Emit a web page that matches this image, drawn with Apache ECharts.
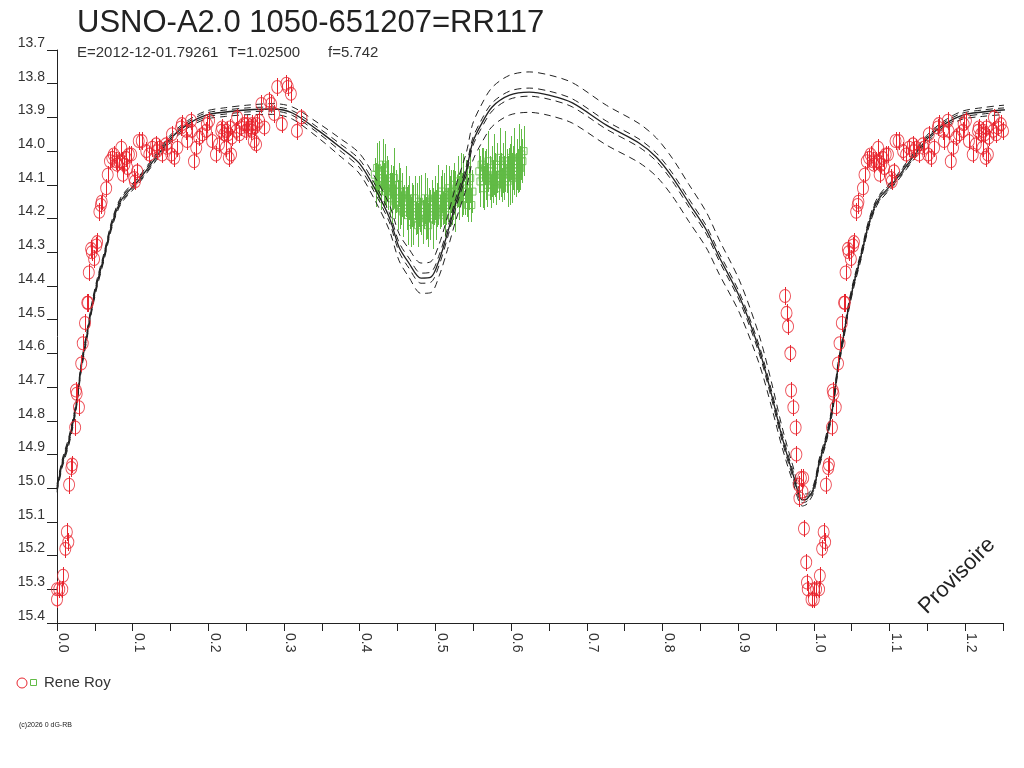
<!DOCTYPE html>
<html>
<head>
<meta charset="utf-8">
<title>USNO-A2.0 1050-651207=RR117</title>
<script src="https://cdn.jsdelivr.net/npm/echarts@6/dist/echarts.min.js"></script>
<style>
  html, body { margin: 0; padding: 0; background: #fff; }
  #chart { width: 1024px; height: 768px; }
</style>
</head>
<body>
<div id="chart"></div>
<script>
  var FONT = '"Liberation Sans", Arial, Helvetica, sans-serif';

  // ---- model light curve (phase / magnitude) with envelope spreads
  var modelPhase = [0.000, 0.007, 0.016, 0.025, 0.032, 0.040, 0.046, 0.053, 0.062, 0.073,
    0.085, 0.108, 0.131, 0.152, 0.175, 0.197, 0.223, 0.250, 0.285, 0.311,
    0.346, 0.372, 0.399, 0.419, 0.439, 0.452, 0.465, 0.481, 0.494, 0.505,
    0.516, 0.527, 0.541, 0.549, 0.560, 0.575, 0.598, 0.624, 0.650, 0.681,
    0.726, 0.769, 0.792, 0.813, 0.835, 0.858, 0.875, 0.902, 0.928, 0.945,
    0.958, 0.972, 0.985, 0.991, 1.000];
  var modelMag = [15.000, 14.926, 14.857, 14.759, 14.641, 14.540, 14.463, 14.391, 14.314, 14.213,
    14.145, 14.086, 14.018, 13.958, 13.917, 13.893, 13.884, 13.878, 13.875, 13.887,
    13.940, 13.985, 14.035, 14.107, 14.196, 14.285, 14.332, 14.377, 14.374, 14.323,
    14.243, 14.154, 14.056, 13.976, 13.923, 13.869, 13.834, 13.825, 13.834, 13.857,
    13.923, 13.976, 14.018, 14.077, 14.154, 14.234, 14.314, 14.433, 14.590, 14.730,
    14.848, 14.955, 15.035, 15.032, 15.000];
  var innerSpread = [0.006, 0.006, 0.006, 0.006, 0.006, 0.006, 0.006, 0.006, 0.006, 0.006,
    0.006, 0.006, 0.006, 0.006, 0.006, 0.006, 0.006, 0.006, 0.006, 0.007,
    0.008, 0.010, 0.012, 0.013, 0.014, 0.014, 0.015, 0.015, 0.015, 0.015,
    0.014, 0.014, 0.013, 0.012, 0.012, 0.012, 0.012, 0.012, 0.012, 0.012,
    0.012, 0.012, 0.012, 0.012, 0.012, 0.012, 0.012, 0.012, 0.012, 0.012,
    0.011, 0.010, 0.008, 0.007, 0.006];
  var outerSpread = [0.012, 0.012, 0.012, 0.012, 0.012, 0.012, 0.012, 0.012, 0.011, 0.011,
    0.010, 0.010, 0.010, 0.011, 0.011, 0.012, 0.013, 0.014, 0.016, 0.018,
    0.022, 0.026, 0.030, 0.034, 0.038, 0.040, 0.042, 0.045, 0.046, 0.047,
    0.049, 0.051, 0.053, 0.055, 0.057, 0.058, 0.059, 0.060, 0.060, 0.060,
    0.059, 0.058, 0.057, 0.056, 0.055, 0.053, 0.051, 0.048, 0.042, 0.036,
    0.030, 0.024, 0.018, 0.015, 0.012];

  // ---- Rene Roy, red circles: [phase, mag]
  var redErr = 0.026;
  var redPoints = [
    [0.000, 15.33], [0.000, 15.30], [0.003, 15.30], [0.007, 15.30], [0.008, 15.26],
    [0.011, 15.18], [0.013, 15.13], [0.015, 15.16], [0.016, 14.99], [0.019, 14.94],
    [0.020, 14.93], [0.024, 14.82], [0.025, 14.71], [0.026, 14.72], [0.029, 14.76],
    [0.032, 14.63], [0.034, 14.57], [0.037, 14.51], [0.040, 14.45], [0.041, 14.45],
    [0.042, 14.36], [0.045, 14.29], [0.046, 14.30], [0.049, 14.32], [0.052, 14.28],
    [0.053, 14.27], [0.056, 14.18], [0.058, 14.16], [0.059, 14.15], [0.065, 14.11],
    [0.067, 14.07], [0.070, 14.03], [0.073, 14.02], [0.075, 14.01], [0.078, 14.03],
    [0.079, 14.04], [0.082, 14.03], [0.085, 13.99], [0.086, 14.03], [0.087, 14.07],
    [0.089, 14.04], [0.091, 14.02], [0.093, 14.05], [0.095, 14.01], [0.098, 14.01],
    [0.102, 14.08], [0.103, 14.09], [0.106, 14.06], [0.108, 13.97], [0.112, 13.97],
    [0.118, 14.00], [0.122, 14.01], [0.126, 13.99], [0.131, 13.98], [0.132, 14.00],
    [0.135, 13.99], [0.139, 14.01], [0.144, 13.98], [0.145, 13.99], [0.151, 14.01],
    [0.152, 13.95], [0.155, 14.02], [0.159, 13.99], [0.164, 13.93], [0.165, 13.92],
    [0.171, 13.94], [0.172, 13.97], [0.177, 13.91], [0.178, 13.94], [0.181, 14.03],
    [0.184, 13.99], [0.188, 13.96], [0.192, 13.95], [0.197, 13.94], [0.198, 13.92],
    [0.201, 13.91], [0.205, 13.97], [0.210, 14.01], [0.214, 13.98], [0.217, 13.94],
    [0.218, 13.93], [0.221, 13.95], [0.223, 13.99], [0.224, 13.94], [0.226, 13.95],
    [0.227, 14.02], [0.228, 13.93], [0.230, 14.01], [0.231, 13.96], [0.237, 13.94],
    [0.238, 13.90], [0.241, 13.95], [0.243, 13.93], [0.247, 13.92], [0.250, 13.94],
    [0.251, 13.92], [0.253, 13.93], [0.256, 13.93], [0.257, 13.94], [0.258, 13.92],
    [0.260, 13.97], [0.261, 13.93], [0.263, 13.98], [0.264, 13.92], [0.267, 13.91],
    [0.270, 13.86], [0.274, 13.93], [0.280, 13.85], [0.283, 13.86], [0.287, 13.89],
    [0.291, 13.81], [0.297, 13.92], [0.303, 13.80], [0.305, 13.81], [0.309, 13.83],
    [0.317, 13.94], [0.323, 13.90],
    [0.962, 14.43], [0.964, 14.48], [0.966, 14.52], [0.969, 14.60], [0.970, 14.71],
    [0.973, 14.76], [0.976, 14.82], [0.977, 14.90], [0.980, 14.99], [0.981, 15.03],
    [0.983, 14.97], [0.985, 15.01], [0.986, 14.97], [0.987, 15.12], [0.990, 15.22],
    [0.991, 15.28], [0.992, 15.30], [0.997, 15.33]
  ];

  // ---- Rene Roy, green squares: [phase, mag, err]
  var greenPoints = [
    [0.4200, 14.07, 0.050], [0.4215, 14.10, 0.065], [0.4230, 14.05, 0.075], [0.4245, 14.09, 0.050],
    [0.4260, 14.06, 0.090], [0.4275, 14.11, 0.065], [0.4290, 14.08, 0.050], [0.4305, 14.04, 0.075],
    [0.4320, 14.10, 0.065], [0.4335, 14.07, 0.090], [0.4350, 14.12, 0.050], [0.4365, 14.08, 0.065],
    [0.4380, 14.10, 0.075], [0.4395, 14.13, 0.065], [0.4410, 14.09, 0.050], [0.4425, 14.14, 0.075],
    [0.4440, 14.11, 0.065], [0.4455, 14.08, 0.090], [0.4470, 14.15, 0.050], [0.4485, 14.12, 0.065],
    [0.4500, 14.16, 0.075], [0.4515, 14.10, 0.065], [0.4530, 14.14, 0.090], [0.4545, 14.17, 0.050],
    [0.4560, 14.13, 0.065], [0.4575, 14.18, 0.075], [0.4590, 14.15, 0.050], [0.4605, 14.12, 0.075],
    [0.4620, 14.17, 0.065], [0.4635, 14.19, 0.090], [0.4650, 14.14, 0.065], [0.4665, 14.18, 0.050],
    [0.4680, 14.21, 0.075], [0.4695, 14.16, 0.065], [0.4710, 14.19, 0.090], [0.4725, 14.14, 0.065],
    [0.4740, 14.20, 0.050], [0.4755, 14.17, 0.075], [0.4770, 14.22, 0.065], [0.4785, 14.15, 0.075],
    [0.4800, 14.19, 0.050], [0.4815, 14.16, 0.090], [0.4830, 14.21, 0.065], [0.4845, 14.18, 0.050],
    [0.4860, 14.14, 0.075], [0.4875, 14.20, 0.065], [0.4890, 14.17, 0.090], [0.4905, 14.22, 0.065],
    [0.4920, 14.16, 0.050], [0.4935, 14.19, 0.075], [0.4950, 14.15, 0.065], [0.4965, 14.20, 0.090],
    [0.4980, 14.17, 0.050], [0.4995, 14.14, 0.065], [0.5010, 14.19, 0.075], [0.5025, 14.16, 0.065],
    [0.5040, 14.13, 0.090], [0.5055, 14.18, 0.050], [0.5070, 14.15, 0.075], [0.5085, 14.12, 0.065],
    [0.5100, 14.17, 0.050], [0.5115, 14.14, 0.075], [0.5130, 14.19, 0.065], [0.5145, 14.13, 0.090],
    [0.5160, 14.16, 0.050], [0.5175, 14.11, 0.065], [0.5190, 14.15, 0.075], [0.5205, 14.12, 0.065],
    [0.5220, 14.17, 0.050], [0.5235, 14.13, 0.075], [0.5250, 14.10, 0.065], [0.5265, 14.15, 0.090],
    [0.5280, 14.12, 0.050], [0.5295, 14.09, 0.075], [0.5310, 14.14, 0.065], [0.5325, 14.11, 0.050],
    [0.5340, 14.08, 0.075], [0.5355, 14.13, 0.065], [0.5370, 14.10, 0.090], [0.5385, 14.14, 0.050],
    [0.5400, 14.09, 0.065], [0.5415, 14.12, 0.075], [0.5430, 14.16, 0.050], [0.5445, 14.11, 0.065],
    [0.5460, 14.08, 0.075], [0.5475, 14.16, 0.050], [0.5490, 14.12, 0.065],
    [0.5580, 14.06, 0.065], [0.5595, 14.09, 0.075], [0.5610, 14.04, 0.050], [0.5625, 14.08, 0.090],
    [0.5640, 14.11, 0.065], [0.5655, 14.05, 0.050], [0.5670, 14.07, 0.075], [0.5685, 14.10, 0.065],
    [0.5700, 14.03, 0.090], [0.5715, 14.08, 0.065], [0.5730, 14.12, 0.050], [0.5745, 14.06, 0.075],
    [0.5760, 14.09, 0.065], [0.5775, 14.04, 0.090], [0.5790, 14.07, 0.065], [0.5805, 14.11, 0.050],
    [0.5820, 14.05, 0.075], [0.5835, 14.08, 0.065], [0.5850, 14.02, 0.090], [0.5865, 14.07, 0.065],
    [0.5880, 14.10, 0.050], [0.5895, 14.05, 0.075], [0.5910, 14.08, 0.065], [0.5925, 14.03, 0.090],
    [0.5940, 14.06, 0.065], [0.5955, 14.09, 0.075], [0.5970, 14.04, 0.050], [0.5985, 14.07, 0.090],
    [0.6000, 14.02, 0.065], [0.6015, 14.08, 0.075], [0.6030, 14.05, 0.065], [0.6045, 14.03, 0.100],
    [0.6060, 14.07, 0.065], [0.6075, 14.04, 0.075], [0.6090, 14.06, 0.065], [0.6105, 14.02, 0.100],
    [0.6120, 14.05, 0.065], [0.6135, 14.01, 0.075], [0.6150, 14.03, 0.065], [0.6165, 14.00, 0.075]
  ];

  var PHASE_MAX = 1.25;
  var RED = '#e8262f';
  var GREEN = '#62bb46';
  var INK = '#222';

  // model curve (optionally offset), repeated past phase 1 up to PHASE_MAX
  function modelLine(sign, spread) {
    var pts = [];
    for (var i = 0; i < modelPhase.length; i++) {
      pts.push([modelPhase[i], modelMag[i] + sign * (spread ? spread[i] : 0)]);
    }
    for (var j = 1; j < modelPhase.length && modelPhase[j] <= PHASE_MAX - 1 + 0.04; j++) {
      pts.push([modelPhase[j] + 1, modelMag[j] + sign * (spread ? spread[j] : 0)]);
    }
    return pts;
  }

  // red points folded: phase and phase+1
  var redData = [];
  redPoints.forEach(function (p) {
    redData.push([p[0], p[1], redErr]);
  });
  redPoints.forEach(function (p) {
    if (p[0] + 1 <= PHASE_MAX) redData.push([p[0] + 1, p[1], redErr]);
  });

  function errorBars(data, color, z) {
    return {
      type: 'custom',
      data: data,
      encode: { x: 0, y: 1 },
      z: z,
      silent: true,
      renderItem: function (params, api) {
        var x = api.value(0), y = api.value(1), e = api.value(2);
        var a = api.coord([x, y - e]);
        var b = api.coord([x, y + e]);
        var px = Math.round(a[0]) + 0.5; // crisp 1px bar
        return {
          type: 'line',
          shape: { x1: px, y1: Math.round(a[1]), x2: px, y2: Math.round(b[1]) },
          style: { stroke: color, lineWidth: 1 }
        };
      }
    };
  }

  function dashed(data) {
    return {
      type: 'line', data: data, smooth: 0.3, symbol: 'none', z: 3, silent: true,
      lineStyle: { color: INK, width: 1, type: [7, 5] }
    };
  }

  var myChart = echarts.init(document.getElementById('chart'));

  var option = {
    animation: false,
    backgroundColor: '#fff',
    textStyle: { fontFamily: FONT },
    grid: { left: 57, right: 21, top: 50, bottom: 145 },
    xAxis: {
      type: 'value',
      min: 0,
      max: PHASE_MAX,
      interval: 0.05,
      axisLine: { onZero: false, lineStyle: { color: INK, width: 1 } },
      axisTick: { length: 8, lineStyle: { color: INK } },
      axisLabel: {
        rotate: -90,
        margin: 10,
        verticalAlign: 'bottom',
        lineHeight: 12,
        color: '#333',
        fontSize: 14,
        fontFamily: FONT,
        showMinLabel: true,
        showMaxLabel: true,
        formatter: function (v) {
          var k = Math.round(v * 20);
          return k % 2 === 0 ? (k / 20).toFixed(1) : '';
        }
      },
      splitLine: { show: false }
    },
    yAxis: {
      type: 'value',
      inverse: true,
      min: 13.7,
      max: 15.4,
      interval: 0.1,
      axisLine: { show: true, lineStyle: { color: INK, width: 1 } },
      axisTick: { show: true, length: 10, lineStyle: { color: INK } },
      axisLabel: {
        margin: 12,
        verticalAlign: 'bottom',
        lineHeight: 14,
        color: '#333',
        fontSize: 14,
        fontFamily: FONT,
        formatter: function (v) { return v.toFixed(1); }
      },
      splitLine: { show: false }
    },
    series: [
      errorBars(greenPoints, GREEN, 1),
      {
        type: 'scatter', data: greenPoints, z: 2, clip: false, silent: true,
        symbol: 'rect', symbolSize: 7,
        itemStyle: { color: 'rgba(0,0,0,0)', borderColor: GREEN, borderWidth: 1 }
      },
      dashed(modelLine(-1, outerSpread)),
      dashed(modelLine(1, outerSpread)),
      dashed(modelLine(-1, innerSpread)),
      dashed(modelLine(1, innerSpread)),
      {
        type: 'line', data: modelLine(0, null), smooth: 0.3, symbol: 'none', z: 3, silent: true,
        lineStyle: { color: INK, width: 1.3 }
      },
      errorBars(redData, RED, 4),
      {
        type: 'scatter', data: redData, z: 5, clip: false, silent: true,
        symbol: 'circle', symbolSize: [11, 13],
        itemStyle: { color: 'rgba(0,0,0,0)', borderColor: RED, borderWidth: 1 }
      }
    ],
    graphic: [
      {
        type: 'text', left: 77, top: 8,
        style: { text: 'USNO-A2.0 1050-651207=RR117', font: '31px ' + FONT, fill: INK }
      },
      {
        type: 'text', x: 77, y: 53,
        style: { text: 'E=2012-12-01.79261', font: '15px ' + FONT, fill: '#333', verticalAlign: 'middle' }
      },
      {
        type: 'text', x: 228, y: 53,
        style: { text: 'T=1.02500', font: '15px ' + FONT, fill: '#333', verticalAlign: 'middle' }
      },
      {
        type: 'text', x: 328, y: 53,
        style: { text: 'f=5.742', font: '15px ' + FONT, fill: '#333', verticalAlign: 'middle' }
      },
      {
        type: 'text', x: 957, y: 576, rotation: Math.PI / 4,
        style: { text: 'Provisoire', font: '22px ' + FONT, fill: INK, align: 'center', verticalAlign: 'middle' }
      },
      {
        type: 'circle', shape: { cx: 22, cy: 683, r: 5 },
        style: { fill: 'none', stroke: RED, lineWidth: 1 }
      },
      {
        type: 'rect', shape: { x: 30.5, y: 679.5, width: 6, height: 6 },
        style: { fill: 'none', stroke: GREEN, lineWidth: 1 }
      },
      {
        type: 'text', x: 44, y: 683,
        style: { text: 'Rene Roy', font: '15px ' + FONT, fill: '#333', verticalAlign: 'middle' }
      },
      {
        type: 'text', x: 19, y: 725,
        style: { text: '(c)2026 0 dG-RB', font: '7px ' + FONT, fill: INK, verticalAlign: 'middle' }
      }
    ]
  };

  option && myChart.setOption(option);

  window.addEventListener('resize', function () {
    if (myChart) {
      myChart.resize();
    }
  });
</script>
</body>
</html>
